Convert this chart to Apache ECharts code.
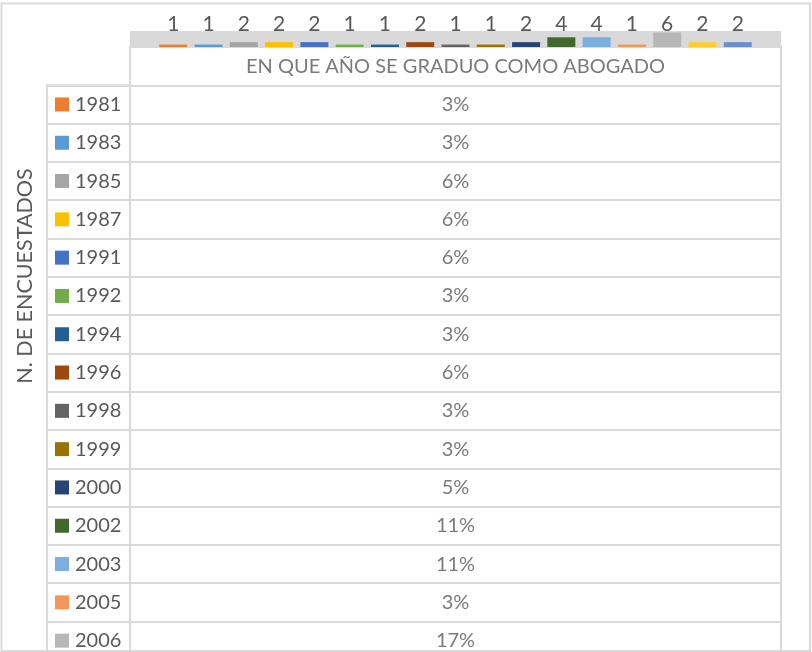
<!DOCTYPE html>
<html>
<head>
<meta charset="utf-8">
<script src="https://cdn.jsdelivr.net/npm/echarts@6.0.0/dist/echarts.min.js"></script>
<style>
  html, body { margin: 0; padding: 0; background: #fff; }
  #chart { width: 812px; height: 652px; }
</style>
</head>
<body>
<div id="chart"></div>
<script>
  // datos
  var years = ['1981', '1983', '1985', '1987', '1991', '1992', '1994', '1996', '1998',
               '1999', '2000', '2002', '2003', '2005', '2006', '2008', '2010'];
  var counts = [1, 1, 2, 2, 2, 1, 1, 2, 1, 1, 2, 4, 4, 1, 6, 2, 2];
  var percents = ['3%', '3%', '6%', '6%', '6%', '3%', '3%', '6%', '3%', '3%', '5%',
                  '11%', '11%', '3%', '17%', '6%', '6%'];
  var colors = ['#ED7D31', '#5B9BD5', '#A5A5A5', '#FFC000', '#4472C4', '#70AD47',
                '#255E91', '#9E480E', '#636363', '#997300', '#264478', '#43682B',
                '#7CAFDD', '#F1975A', '#B7B7B7', '#FFCD33', '#698ED0'];
  var tableTitle = 'EN QUE AÑO SE GRADUO COMO ABOGADO';
  var axisTitle = 'N. DE ENCUESTADOS';

  var txt = '#595959';
  var line = '#D9D9D9';
  var font = 'Lato';
  var rowH = 38.3;

  var chart = echarts.init(document.getElementById('chart'));

  var series = [];
  years.forEach(function (y, i) {
    series.push({
      name: y,
      type: 'bar',
      xAxisIndex: 0,
      yAxisIndex: 0,
      data: [counts[i]],
      barWidth: 28,
      barGap: '26%',
      itemStyle: { color: colors[i] },
      label: {
        show: true,
        position: 'insideBottom',
        distance: 12,
        color: txt,
        fontSize: 21,
        fontFamily: font
      },
      silent: true
    });
  });

  // filas de la tabla: encabezado + porcentajes
  var cells = [[0, 0]];
  years.forEach(function (y, i) { cells.push([0, i + 1]); });
  series.push({
    type: 'scatter',
    xAxisIndex: 1,
    yAxisIndex: 1,
    data: cells,
    symbolSize: 1,
    itemStyle: { color: 'rgba(0,0,0,0)' },
    label: {
      show: true,
      position: 'inside',
      color: txt,
      fontSize: 20,
      fontFamily: font,
      formatter: function (p) {
        return p.dataIndex === 0 ? tableTitle : percents[p.dataIndex - 1];
      }
    },
    silent: true
  });

  var rich = {
    t: { fontSize: 20, fontFamily: font, color: txt, padding: [0, 0, 0, 6] }
  };
  colors.forEach(function (c, i) {
    rich['s' + i] = { width: 14, height: 14, backgroundColor: c };
  });

  chart.setOption({
    animation: false,
    backgroundColor: '#fff',
    textStyle: { fontFamily: font },
    grid: [
      { left: 130, width: 651, top: 31, height: 16, show: true, outerBoundsMode: 'none',
        backgroundColor: line, borderWidth: 0 },
      { left: 130, width: 651, top: 47, height: rowH * (years.length + 1), show: true,
        outerBoundsMode: 'none', borderColor: line, borderWidth: 2 },
      { left: 47, width: 83, top: 47 + rowH, height: rowH * years.length, show: true,
        outerBoundsMode: 'none', borderColor: line, borderWidth: 2 }
    ],
    xAxis: [
      { gridIndex: 0, type: 'category', data: ['N'], show: false },
      { gridIndex: 1, type: 'category', data: [tableTitle], show: false },
      { gridIndex: 2, type: 'value', show: false }
    ],
    yAxis: [
      { gridIndex: 0, type: 'value', min: 0, max: 6.6, show: false },
      { gridIndex: 1, type: 'category', data: [''].concat(years), inverse: true,
        axisLine: { show: false }, axisTick: { show: false }, axisLabel: { show: false },
        splitLine: { show: true, interval: 0, lineStyle: { color: line, width: 2 } } },
      { gridIndex: 2, type: 'category', data: years, inverse: true,
        axisLine: { show: false }, axisTick: { show: false },
        splitLine: { show: true, interval: 0, lineStyle: { color: line, width: 2 } },
        axisLabel: {
          inside: true,
          interval: 0,
          margin: 8,
          formatter: function (v, i) { return '{s' + i + '|}{t|' + v + '}'; },
          rich: rich
        } }
    ],
    graphic: [
      { type: 'rect', shape: { x: 1.5, y: 3.5, width: 808.5, height: 647.5 },
        style: { fill: 'none', stroke: line, lineWidth: 2 }, silent: true },
      { type: 'text', x: 25, y: 276, rotation: Math.PI / 2,
        style: { text: axisTitle, fill: txt, fontSize: 21.5, fontFamily: font,
                 textAlign: 'center', textVerticalAlign: 'middle' } }
    ],
    series: series
  });
</script>
</body>
</html>
